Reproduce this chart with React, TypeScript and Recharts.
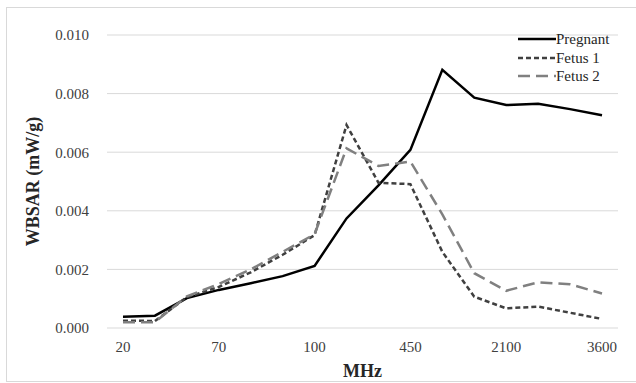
import {
	CartesianGrid,
	Label,
	Line,
	LineChart,
	XAxis,
	YAxis,
} from "recharts";

const frequencies = [
	"20", "30", "50", "70", "80", "90", "100", "200",
	"300", "450", "700", "900", "2100", "2450", "3000", "3600",
];

const pregnant = [
	0.00038, 0.00042, 0.00102, 0.0013, 0.00153, 0.00177, 0.00212, 0.00374,
	0.00487, 0.00608, 0.00881, 0.00786, 0.00761, 0.00765, 0.00747, 0.00726,
];

const fetus1 = [
	0.00025, 0.00024, 0.00105, 0.0014, 0.0019, 0.0025, 0.00317, 0.00693,
	0.00496, 0.00491, 0.0026, 0.00107, 0.00067, 0.00073, 0.00052, 0.00031,
];

const fetus2 = [
	0.0002, 0.0002, 0.00108, 0.0015, 0.002, 0.0026, 0.0032, 0.00613,
	0.00553, 0.00568, 0.00388, 0.00187, 0.00127, 0.00156, 0.00149, 0.00118,
];

const yTicks = [0, 0.002, 0.004, 0.006, 0.008, 0.01];

const data = frequencies.map((f, i) => ({
	freq: f,
	pregnant: pregnant[i],
	fetus1: fetus1[i],
	fetus2: fetus2[i],
}));

const FONT = '"Liberation Serif", "Times New Roman", serif';

const series = [
	{ key: "pregnant", name: "Pregnant", color: "#000000", dash: undefined },
	{ key: "fetus1", name: "Fetus 1", color: "#404040", dash: "5 3" },
	{ key: "fetus2", name: "Fetus 2", color: "#808080", dash: "12 6" },
];

// legend sits over the plot, top right, like the original
const LegendBox = () => (
	<div
		style={{
			position: "absolute",
			left: 518,
			top: 30,
			fontFamily: FONT,
			fontSize: 15,
			color: "#262626",
			lineHeight: "18.5px",
		}}
	>
		{series.map((s) => (
			<div
				key={s.key}
				style={{ display: "flex", alignItems: "center", height: 18.5 }}
			>
				<svg width={38} height={6} style={{ display: "block" }}>
					<line
						x1={0}
						y1={3}
						x2={38}
						y2={3}
						stroke={s.color}
						strokeWidth={2.5}
						strokeDasharray={s.dash}
					/>
				</svg>
				<span>{s.name}</span>
			</div>
		))}
	</div>
);

export default function App() {
	return (
		<div
			style={{
				position: "absolute",
				left: 0,
				top: 0,
				width: 636,
				height: 383,
				background: "#fff",
				overflow: "hidden",
			}}
		>
			<div
				style={{
					position: "absolute",
					left: 6,
					top: 7,
					width: 640,
					height: 375,
					border: "1px solid #d9d9d9",
					boxSizing: "border-box",
				}}
			/>
			<LineChart
				width={636}
				height={383}
				data={data}
				margin={{ top: 35, right: 18, bottom: 25, left: 0 }}
				style={{ position: "absolute", left: 0, top: 0 }}
			>
				<CartesianGrid vertical={false} stroke="#d9d9d9" strokeWidth={1} />
				<XAxis
					dataKey="freq"
					interval={2}
					axisLine={false}
					tickLine={false}
					tickMargin={7}
					height={30}
					padding={{ left: 16, right: 16 }}
					tick={{ fill: "#404040", fontSize: 15, fontFamily: FONT }}
				>
					<Label
						content={({ viewBox }: any) => (
							<text
								x={viewBox.x + viewBox.width / 2}
								y={377}
								textAnchor="middle"
								fontFamily={FONT}
								fontSize={18}
								fontWeight="bold"
								fill="#262626"
							>
								MHz
							</text>
						)}
					/>
				</XAxis>
				<YAxis
					domain={[0, 0.01]}
					ticks={yTicks}
					width={107}
					axisLine={false}
					tickLine={false}
					tickMargin={12}
					tickFormatter={(v: number) => v.toFixed(3)}
					tick={{ fill: "#404040", fontSize: 15, fontFamily: FONT }}
				>
					<Label
						content={({ viewBox }: any) => {
							const cy = viewBox.y + viewBox.height / 2;
							return (
								<text
									x={39}
									y={cy}
									transform={`rotate(-90 39 ${cy})`}
									textAnchor="middle"
									fontFamily={FONT}
									fontSize={18}
									fontWeight="bold"
									fill="#262626"
								>
									WBSAR (mW/g)
								</text>
							);
						}}
					/>
				</YAxis>
				{series.map((s) => (
					<Line
						key={s.key}
						type="linear"
						dataKey={s.key}
						name={s.name}
						stroke={s.color}
						strokeWidth={2.5}
						strokeDasharray={s.dash}
						dot={false}
						activeDot={false}
						isAnimationActive={false}
					/>
				))}
			</LineChart>
			<LegendBox />
		</div>
	);
}
